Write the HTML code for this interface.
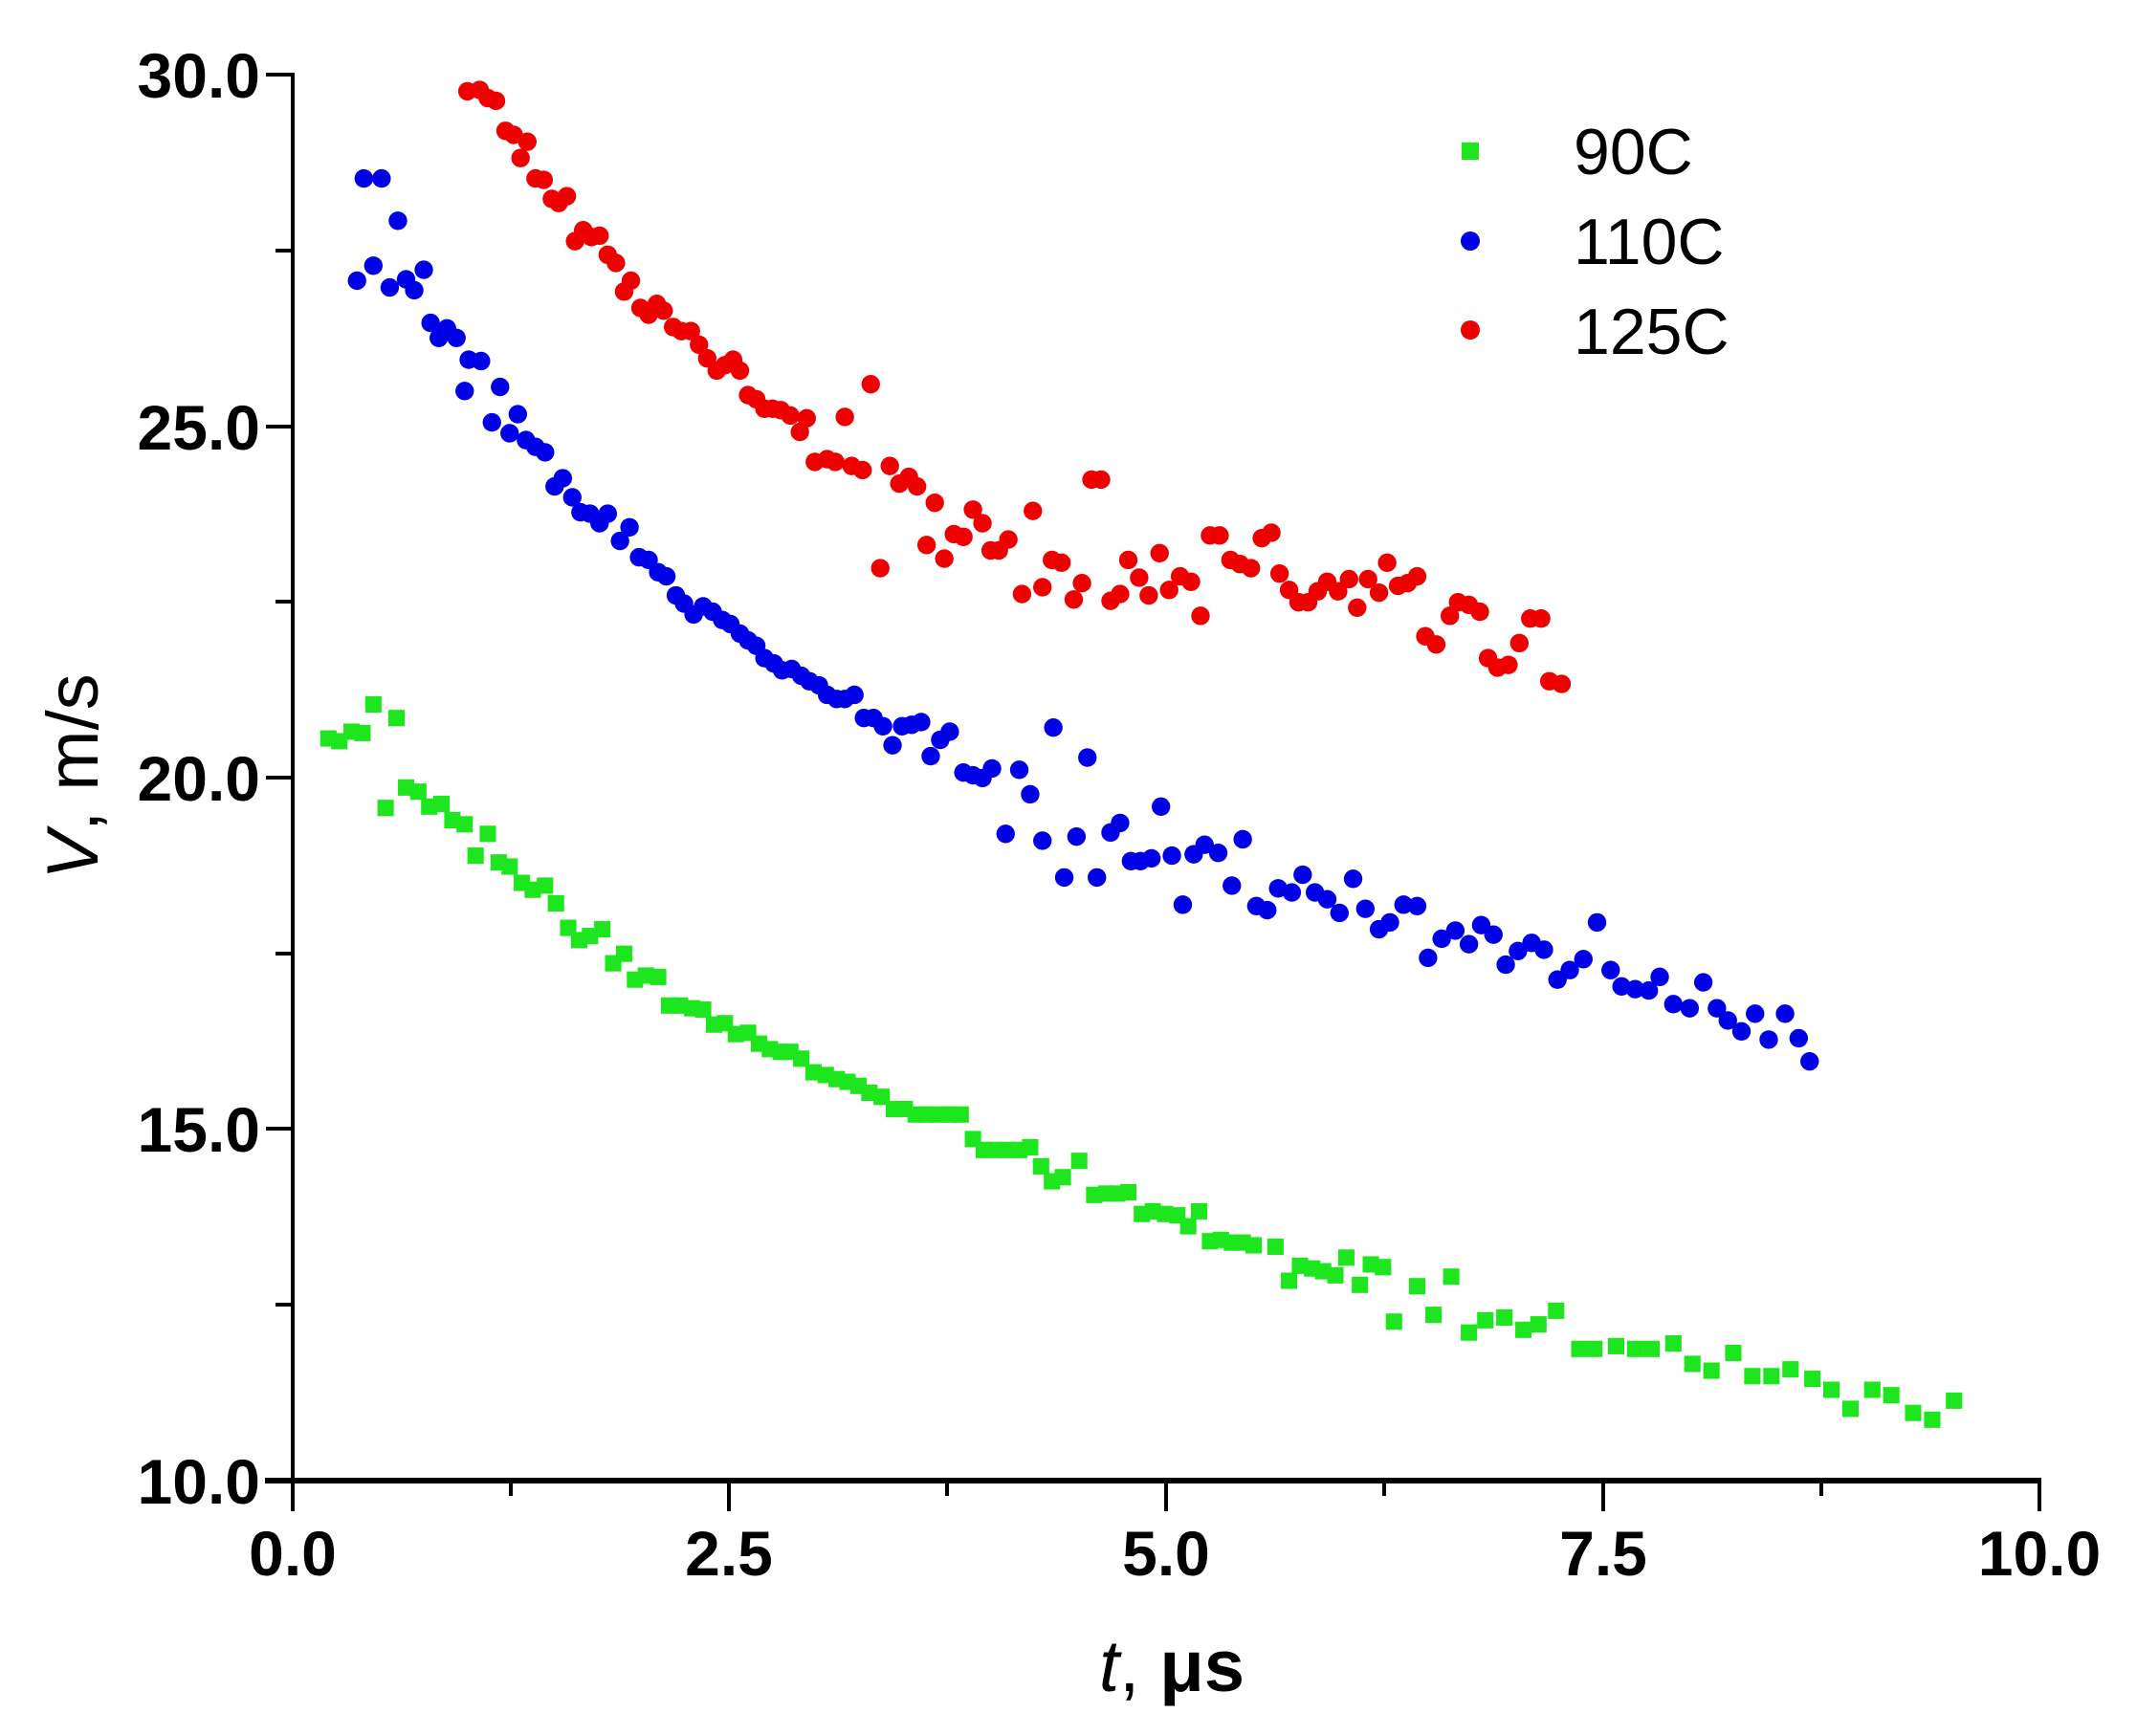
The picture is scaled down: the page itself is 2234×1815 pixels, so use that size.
<!DOCTYPE html>
<html><head><meta charset="utf-8"><style>
html,body{margin:0;padding:0;background:#fff;}
svg{display:block;}
text{font-family:"Liberation Sans",Arial,sans-serif;}
</style></head><body>
<svg id="s" width="2234" height="1815" viewBox="0 0 2234 1815" xmlns="http://www.w3.org/2000/svg">
<rect width="2234" height="1815" fill="#fff"/>
<g id="data" transform="scale(1.4245)"></g>
<g stroke="#000" fill="none">
<line x1="306" y1="76" x2="306" y2="1550" stroke-width="4"/>
<line x1="277" y1="1548" x2="2134" y2="1548" stroke-width="6"/>
<g stroke-width="4">
<line x1="278" y1="78" x2="306" y2="78"/>
<line x1="288" y1="262" x2="306" y2="262"/>
<line x1="278" y1="446" x2="306" y2="446"/>
<line x1="288" y1="629" x2="306" y2="629"/>
<line x1="278" y1="813" x2="306" y2="813"/>
<line x1="288" y1="997" x2="306" y2="997"/>
<line x1="278" y1="1180" x2="306" y2="1180"/>
<line x1="288" y1="1364" x2="306" y2="1364"/>
<line x1="306" y1="1548" x2="306" y2="1580"/>
<line x1="534" y1="1548" x2="534" y2="1564"/>
<line x1="762" y1="1548" x2="762" y2="1580"/>
<line x1="990" y1="1548" x2="990" y2="1564"/>
<line x1="1219" y1="1548" x2="1219" y2="1580"/>
<line x1="1447" y1="1548" x2="1447" y2="1564"/>
<line x1="1676" y1="1548" x2="1676" y2="1580"/>
<line x1="1904" y1="1548" x2="1904" y2="1564"/>
<line x1="2132" y1="1548" x2="2132" y2="1580"/>
</g></g>
<g font-size="66" font-weight="bold" text-anchor="end" fill="#000">
<text x="272" y="102">30.0</text>
<text x="272" y="470">25.0</text>
<text x="272" y="837">20.0</text>
<text x="272" y="1204">15.0</text>
<text x="272" y="1572">10.0</text>
</g>
<g font-size="66" font-weight="bold" text-anchor="middle" fill="#000">
<text x="306" y="1647">0.0</text>
<text x="762" y="1647">2.5</text>
<text x="1219" y="1647">5.0</text>
<text x="1676" y="1647">7.5</text>
<text x="2132" y="1647">10.0</text>
</g>
<text x="1225" y="1768" font-size="76" text-anchor="middle" fill="#000"><tspan font-style="italic">t</tspan>, <tspan font-weight="bold">μs</tspan></text>
<text transform="translate(102,812) rotate(-90)" font-size="76" text-anchor="middle" fill="#000"><tspan font-style="italic">V</tspan>, m/s</text>
<rect x="1528" y="149" width="18" height="18" fill="#1ee61e"/>
<circle cx="1537" cy="252" r="10" fill="#0000e6"/>
<circle cx="1537" cy="345" r="10" fill="#ee0000"/>
<g font-size="68" fill="#000">
<text x="1645" y="182">90C</text>
<text x="1645" y="276">110C</text>
<text x="1645" y="370">125C</text>
</g>
</svg>
<script>
var G=[241,542,249,544,258,537,266,538,274,517,283,593,291,527,298,578,307,581,315,592,324,590,332,602,341,605,349,628,358,612,366,633,374,636,383,648,391,653,400,650,408,663,417,681,425,690,433,687,442,682,450,707,458,700,466,719,474,716,483,717,491,738,499,738,508,740,516,741,524,752,532,751,540,759,549,758,557,766,565,770,573,772,580,772,588,777,597,787,606,789,614,792,622,794,630,797,638,802,647,805,656,814,664,814,672,818,680,818,689,818,697,818,705,818,714,836,722,844,731,844,739,844,748,844,756,842,764,856,772,867,780,864,792,852,803,877,812,876,820,876,828,875,838,891,846,889,855,891,864,892,872,900,880,889,888,911,896,910,904,912,912,912,920,914,936,915,946,940,954,929,963,931,971,933,980,936,988,923,998,943,1006,928,1015,930,1023,970,1040,944,1052,965,1065,937,1078,978,1090,969,1104,967,1118,976,1129,972,1142,962,1159,990,1170,990,1186,988,1200,990,1212,990,1228,986,1242,1001,1256,1006,1272,993,1286,1010,1300,1010,1314,1005,1330,1012,1344,1020,1358,1034,1374,1020,1388,1024,1404,1037,1418,1042,1434,1028];
var B=[262,206,267,131,274,195,280,131,286,211,292,162,298,205,304,213,311,198,316,237,322,248,328,241,335,248,341,287,344,264,353,265,361,310,367,284,374,318,380,304,386,323,393,328,400,332,407,357,413,351,420,365,426,376,433,377,440,384,446,377,455,397,462,387,469,409,476,411,483,420,489,423,496,437,502,443,509,451,516,445,523,449,530,455,536,458,543,465,549,470,555,474,561,483,568,487,574,492,581,491,588,496,594,500,601,503,607,510,614,513,620,513,627,510,634,527,641,527,648,533,655,547,662,533,669,532,676,530,683,555,690,543,697,537,707,567,714,569,721,571,728,564,738,612,748,565,756,583,765,617,773,534,781,644,790,614,798,556,805,644,815,611,822,604,830,632,837,632,845,630,852,592,860,628,868,664,876,627,884,620,894,626,904,650,912,616,922,665,930,668,938,652,948,655,956,642,965,655,974,660,983,670,993,645,1002,667,1012,682,1020,677,1030,664,1040,665,1048,703,1058,689,1068,683,1078,693,1087,679,1096,686,1105,708,1114,698,1124,692,1133,697,1143,719,1152,712,1162,704,1172,677,1182,712,1190,724,1200,726,1210,727,1218,717,1228,737,1240,740,1250,721,1260,740,1268,749,1278,757,1288,744,1298,763,1310,744,1320,762,1328,779];
var R=[343,67,352,66,358,72,364,74,371,96,377,99,382,116,387,104,393,131,399,132,405,146,410,149,416,144,422,177,428,169,434,174,440,173,446,187,452,193,458,214,463,206,470,226,476,231,482,223,487,228,494,240,500,243,507,243,513,253,519,263,526,272,532,268,538,264,543,272,549,290,555,293,561,300,567,300,573,301,580,305,587,317,592,307,598,339,607,337,613,339,620,306,625,342,633,345,639,282,646,417,653,342,660,355,667,350,673,357,680,400,686,369,693,410,700,392,707,394,714,374,721,384,727,404,733,404,740,396,750,436,758,375,765,431,772,411,779,413,788,440,794,428,801,352,808,352,815,441,822,436,828,411,836,424,843,437,851,406,858,433,866,423,874,427,881,452,888,393,895,393,903,411,910,414,918,417,926,395,933,391,939,421,946,433,953,442,960,442,967,434,974,427,982,434,990,425,996,446,1004,425,1012,435,1018,413,1026,430,1033,428,1040,423,1046,467,1054,473,1064,452,1070,442,1078,444,1086,449,1092,483,1099,490,1107,488,1115,472,1123,454,1131,454,1137,500,1146,502];
var ns="http://www.w3.org/2000/svg",g=document.getElementById("data");
function add(tag,attrs){var e=document.createElementNS(ns,tag);for(var k in attrs)e.setAttribute(k,attrs[k]);g.appendChild(e);}
for(var i=0;i<G.length;i+=2)add("rect",{x:G[i]-6,y:G[i+1]-6,width:12,height:12,fill:"#1ee61e"});
for(var i=0;i<B.length;i+=2)add("circle",{cx:B[i],cy:B[i+1],r:6.8,fill:"#0000e6"});
for(var i=0;i<R.length;i+=2)add("circle",{cx:R[i],cy:R[i+1],r:6.8,fill:"#ee0000"});
</script>
</body></html>
